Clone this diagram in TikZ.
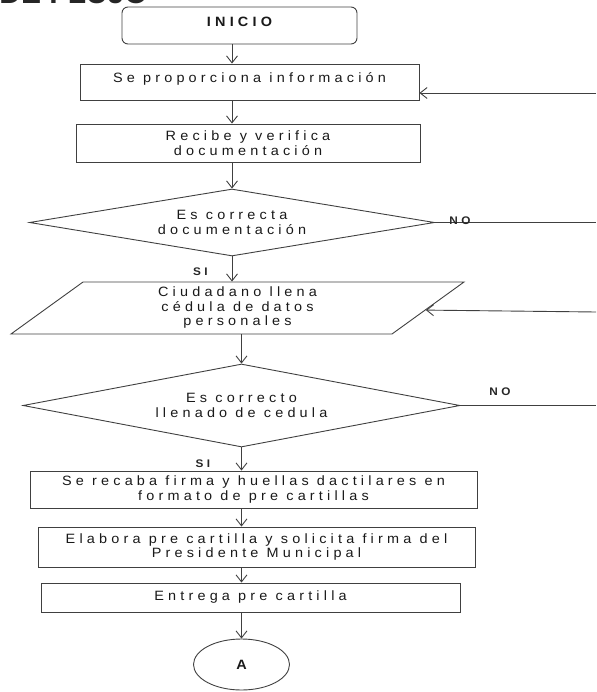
\documentclass[tikz,border=0pt]{standalone}
\usepackage{fontspec}
\setmainfont{Liberation Sans}
\newfontfamily\flowfont{Liberation Sans}[FakeStretch=1.07, LetterSpace=31]
\newfontfamily\titlefont{Liberation Sans}
\usetikzlibrary{shapes.geometric,arrows.meta,positioning}

\def\rightedge{596}

\begin{document}
\begin{tikzpicture}[x=1pt,y=-1pt,draw=black!75,line width=0.9pt,
    >={Straight Barb[length=7pt,width=11pt]}]
    \tikzstyle{txt}=[font=\flowfont\fontsize{13.5}{14.5}\selectfont, text=black!90, align=center, inner sep=0pt]
    \tikzstyle{process}=[txt, rectangle, draw]
    \tikzstyle{start}=[process, rounded corners=6pt]
    \tikzstyle{decision}=[txt, diamond, aspect=5.5, draw]
    \tikzstyle{data}=[txt, trapezium, trapezium left angle=30, trapezium right angle=150,
        trapezium stretches body=true, draw]
    \tikzstyle{connector}=[txt, ellipse, draw]
    \tikzstyle{answer}=[font=\flowfont\fontsize{11}{12}\selectfont\bfseries, text=black!85, inner sep=0pt]

    \useasboundingbox (0,0) rectangle (596,692);

    % Draw the title, cut at the top of the page
    \node[anchor=base west, inner sep=0pt, text=black!85,
        font=\titlefont\fontsize{30}{30}\selectfont\bfseries] (title) at (-1,4) {DE FLUJO};

    % Draw the steps of the chart
    \node[start, minimum width=235, minimum height=37, text depth=8pt] (ini) at (239.5,25.5) {\bfseries INICIO};
    \node[process, minimum width=339, minimum height=36, text depth=8pt] (info) at (249.5,82) {Se proporciona información};
    \node[process, minimum width=344, minimum height=38] (recibe) at (248,143) {Recibe y verifica\\documentación};
    \node[decision, minimum width=405, minimum height=67] (doc) at (232,222.5) {Es correcta\\documentación};
    \node[data, minimum width=453, minimum height=52] (cedula) at (237.5,308) {Ciudadano llena\\cédula de datos\\personales};
    \node[decision, minimum width=437, minimum height=83] (llenado) at (241.5,405.5) {Es correcto\\llenado de cedula};
    \node[process, minimum width=447, minimum height=37] (huellas) at (253.5,489.5) {Se recaba firma y huellas dactilares en\\formato de pre cartillas};
    \node[process, minimum width=437, minimum height=40] (elabora) at (256.5,547) {Elabora pre cartilla y solicita firma del\\Presidente Municipal};
    \node[process, minimum width=419, minimum height=29] (entrega) at (250.5,597.5) {Entrega pre cartilla};
    \node[connector, minimum width=96, minimum height=51] (A) at (241.5,664.5) {\bfseries A};

    % Connect the steps
    \draw[->] (doc.north |- ini.south) -- (doc.north |- info.north);
    \draw[->] (doc.north |- info.south) -- (doc.north |- recibe.north);
    \draw[->] (doc.north |- recibe.south) -- (doc.north);
    \draw[->] (doc.south) -- (doc.south |- cedula.north);
    \draw[->] (llenado.north |- cedula.south) -- (llenado.north);
    \foreach \source/\dest in {llenado/huellas, huellas/elabora, elabora/entrega, entrega/A}
        \draw[->] (llenado.south |- \source.south) -- (llenado.south |- \dest.north);

    % Lines coming back from the right
    \coordinate (ret1) at (\rightedge,93);
    \coordinate (ret2) at (\rightedge,312);
    \draw[->] (ret1) -- (ret1 -| info.east);
    \draw[->] (ret2) -- (cedula);
    \draw (doc.east) -- (doc.east -| ret1);
    \draw (llenado.east) -- (llenado.east -| ret1);

    % Annotate the decisions
    \node[answer] (no1) at (460,221) {NO};
    \node[answer] (si1) at (200.5,272) {SI};
    \node[answer] (no2) at (500,392) {NO};
    \node[answer] (si2) at (203,464) {SI};
\end{tikzpicture}
\end{document}
